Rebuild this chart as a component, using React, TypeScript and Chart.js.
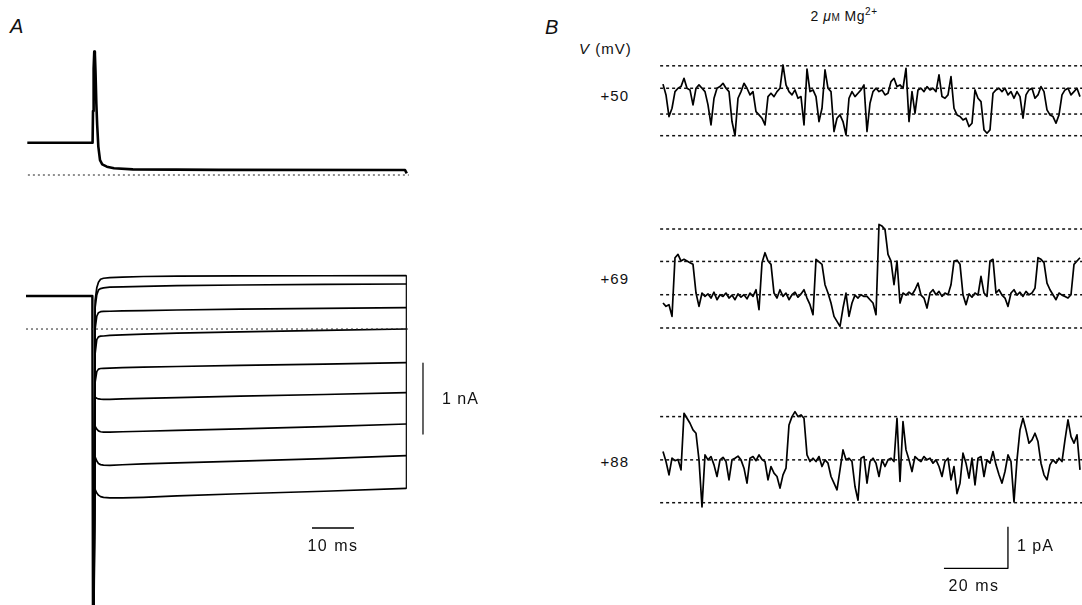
import React, { useEffect, useRef } from "react";
import { Chart, registerables } from "chart.js";

Chart.register(...registerables);

// ---------------- Panel A (whole-cell currents) ----------------
// time in ms relative to the voltage step, current in nA
const aTopTimes = [-15.64, -0.1, 0.0, 0.15, 0.3, 0.45, 0.6, 0.8, 1.0, 1.27, 1.67, 2.2, 3.3, 5, 9.5, 30, 74.3, 74.7];
const aTopValues = [0.455, 0.455, 0.9, 1.5, 1.737, 1.7, 1.45, 1.0, 0.7, 0.4, 0.21, 0.15, 0.117, 0.095, 0.08, 0.072, 0.07, 0.024];

const aHoldStartMs = -15.95;
const aHoldNa = 0.465;
const aTransientNa = -4.5;
const aStepTimes = [0.5, 0.9, 1.3, 1.8, 2.5, 4, 7, 12, 20, 35, 55, 74.6];
const aStep1 = [0.4, 0.58, 0.66, 0.7, 0.715, 0.725, 0.73, 0.74, 0.745, 0.748, 0.75, 0.752];
const aStep2 = [0.3, 0.48, 0.55, 0.57, 0.58, 0.59, 0.595, 0.6, 0.61, 0.62, 0.628, 0.634];
const aStep3 = [0.0, 0.18, 0.23, 0.244, 0.248, 0.25, 0.255, 0.26, 0.268, 0.28, 0.29, 0.3];
const aStep4 = [-0.35, -0.15, -0.11, -0.1, -0.098, -0.09, -0.082, -0.072, -0.058, -0.04, -0.02, 0.0];
const aStep5 = [-0.75, -0.6, -0.565, -0.556, -0.553, -0.55, -0.545, -0.538, -0.528, -0.512, -0.494, -0.474];
const aStep6 = [-0.96, -0.975, -0.985, -0.988, -0.99, -0.99, -0.985, -0.978, -0.965, -0.945, -0.922, -0.897];
const aStep7 = [-1.37, -1.41, -1.435, -1.447, -1.452, -1.452, -1.447, -1.44, -1.428, -1.405, -1.375, -1.338];
const aStep8 = [-1.8, -1.86, -1.895, -1.91, -1.918, -1.92, -1.912, -1.9, -1.885, -1.86, -1.825, -1.784];
const aStep9 = [-2.26, -2.31, -2.34, -2.36, -2.372, -2.378, -2.378, -2.37, -2.35, -2.32, -2.285, -2.244];
const aSteps = [aStep1, aStep2, aStep3, aStep4, aStep5, aStep6, aStep7, aStep8, aStep9];

const aBarMs = 10;
const aBarNa = 1;

// ---------------- Panel B (single channels, pA) ----------------
const bSampleMs = 0.9375;
const b50 = [
  1.24, 0.98, 0.46, 0.66, 1.06, 1.14, 1.18, 1.38, 1.14, 1.1,
  0.74, 1.14, 1.22, 1.14, 1.06, 0.74, 0.26, 0.9, 1.14, 1.18,
  1.26, 1.14, 1.06, 0.34, 0.0, 0.9, 1.06, 1.26, 1.14, 0.98,
  1.06, 0.58, 0.5, 0.42, 0.26, 0.94, 1.02, 0.94, 1.06, 1.14,
  1.7, 1.22, 1.06, 0.98, 1.1, 0.9, 0.94, 0.26, 1.6, 1.06,
  1.1, 0.94, 0.34, 0.66, 1.58, 1.14, 1.06, 0.1, 0.42, 0.5,
  0.34, 0.02, 0.9, 1.06, 0.94, 1.02, 1.1, 1.22,
  0.1, 0.78, 1.06, 1.14, 1.06, 1.1, 0.98, 1.02, 1.3, 1.38,
  1.18, 1.22, 1.14, 1.62, 0.34, 1.06, 0.54, 1.1, 1.14, 1.06,
  1.18, 1.1, 1.14, 1.06, 1.46, 0.94, 0.9, 0.98, 1.42, 0.66,
  0.5, 0.46, 0.38, 0.42, 0.22, 0.3, 1.1, 0.9, 0.82, 0.14,
  0.06, 0.14, 1.02, 1.1, 1.14, 1.06, 1.14, 0.98, 1.06, 0.9,
  1.06, 0.94, 0.42, 0.98, 1.1, 1.14, 0.9, 0.98, 1.18, 1.06,
  0.62, 0.5, 0.46, 0.3, 0.5, 0.98, 1.1, 1.14, 0.98, 1.06,
  1.14, 0.94,
];
const b69 = [
  0.6, 0.52, 0.56, 0.28, 1.69, 1.77, 1.61, 1.65, 1.61, 1.57,
  1.53, 0.84, 0.52, 0.84, 0.76, 0.82, 0.72, 0.86, 0.68, 0.8,
  0.76, 0.84, 0.72, 0.79, 0.68, 0.82, 0.74, 0.8, 0.7, 0.84,
  0.76, 0.92, 0.44, 1.57, 1.81, 1.61, 1.53, 0.84, 0.72, 0.92,
  0.76, 0.84, 0.68, 0.8, 0.86, 0.74, 0.82, 0.92, 0.72, 0.56,
  0.32, 1.65, 1.59, 1.53, 1.04, 0.84, 0.6, 0.28, 0.16, 0.04,
  0.48, 0.84, 0.28, 0.6, 0.79, 0.72, 0.8, 0.76,
  0.76, 0.68, 0.6, 0.32, 2.49, 2.45, 2.37, 1.77, 1.61, 1.04,
  1.61, 0.6, 0.84, 0.79, 0.86, 0.8, 0.92, 1.08, 0.79, 0.72,
  0.48, 0.84, 0.92, 0.8, 0.88, 0.76, 0.84, 0.8, 1.04, 1.61,
  1.63, 1.53, 0.8, 0.56, 0.82, 0.74, 0.84, 0.79, 1.24, 0.84,
  0.76, 1.61, 1.65, 0.84, 0.92, 0.79, 0.72, 0.52, 0.84, 0.92,
  0.79, 0.86, 0.76, 0.88, 0.8, 0.84, 0.96, 1.69, 1.65, 1.57,
  1.08, 0.92, 0.8, 0.68, 0.84, 0.79, 0.76, 0.72, 0.8, 1.53,
  1.61, 1.69,
];
const b88 = [
  1.23, 0.99, 0.67, 1.07, 1.01, 1.04, 0.79, 2.15, 2.03, 1.91,
  1.75, 1.67, 1.03, -0.1, 1.15, 1.03, 1.11, 0.91, 0.63, 1.03,
  1.09, 0.99, 0.55, 1.03, 1.07, 1.12, 1.03, 0.83, 0.47, 1.07,
  1.11, 1.01, 1.15, 1.04, 0.99, 0.55, 0.87, 0.71, 0.63, 0.35,
  0.67, 0.83, 1.87, 2.07, 2.19, 2.07, 2.11, 2.03, 1.15, 0.99,
  1.07, 0.99, 1.11, 0.87, 1.03, 0.95, 0.63, 0.47, 0.31, 0.79,
  1.27, 1.03, 1.07, 0.99, 0.39, 0.06, 1.07, 1.11,
  0.47, 0.99, 1.07, 0.95, 0.63, 1.03, 0.87, 1.03, 1.07, 0.99,
  2.03, 0.51, 1.95, 1.27, 1.03, 0.75, 1.11, 1.04, 0.99, 1.11,
  1.03, 1.07, 0.95, 1.03, 0.87, 0.63, 0.99, 1.07, 0.55, 0.87,
  0.22, 0.47, 1.19, 0.95, 0.59, 1.07, 0.43, 1.07, 1.11, 0.63,
  1.03, 0.95, 1.23, 0.91, 0.67, 0.47, 0.75, 1.15, 0.99, 0.02,
  1.03, 1.75, 2.03, 1.75, 1.43, 1.51, 1.67, 1.47, 0.95, 0.67,
  0.55, 0.91, 1.03, 0.95, 1.07, 0.99, 1.51, 1.99, 1.59, 1.43,
  1.63, 0.79,
];
const b50Levels = [0, 0.52, 1.14, 1.68];
const b69Levels = [0, 0.8, 1.6, 2.38];
const b88Levels = [0, 1.03, 2.07];
const bLevelStartMs = -0.9;
const bLevelEndMs = 131;
const bBarMs = 20;
const bBarPa = 1;

const FONT = '"Liberation Sans", Arial, Helvetica, sans-serif';

type Pt = { x: number; y: number };

function line(data: Pt[], width: number, dash: number[] = [], color = "#000") {
  return {
    data,
    borderColor: color,
    backgroundColor: color,
    borderWidth: width,
    borderDash: dash,
    pointRadius: 0,
    showLine: true,
    fill: false,
    tension: 0,
    borderCapStyle: "butt",
    borderJoinStyle: "round",
  };
}

function Panel(props: {
  left: number;
  top: number;
  width: number;
  height: number;
  xMin: number;
  xMax: number;
  yMin: number;
  yMax: number;
  datasets: any[];
}) {
  const ref = useRef<HTMLCanvasElement | null>(null);
  useEffect(() => {
    const chart = new Chart(ref.current as HTMLCanvasElement, {
      type: "scatter",
      data: { datasets: props.datasets },
      options: {
        animation: false,
        responsive: false,
        maintainAspectRatio: false,
        events: [],
        layout: { padding: 0 },
        plugins: { legend: { display: false }, tooltip: { enabled: false } },
        scales: {
          x: { type: "linear", display: false, min: props.xMin, max: props.xMax },
          y: { type: "linear", display: false, min: props.yMin, max: props.yMax },
        },
      } as any,
    });
    return () => chart.destroy();
  }, []);
  return (
    <canvas
      ref={ref}
      width={props.width}
      height={props.height}
      style={{ position: "absolute", left: props.left, top: props.top, width: props.width, height: props.height }}
    />
  );
}

function Label(props: {
  x: number;
  base: number;
  size: number;
  align?: "left" | "center" | "right";
  italic?: boolean;
  spacing?: number;
  children: React.ReactNode;
}) {
  const align = props.align || "left";
  const shift = align === "left" ? "0" : align === "center" ? "-50%" : "-100%";
  return (
    <div
      style={{
        position: "absolute",
        left: props.x,
        top: props.base - 0.8465 * props.size,
        fontSize: props.size,
        lineHeight: `${props.size}px`,
        fontFamily: FONT,
        fontStyle: props.italic ? "italic" : "normal",
        letterSpacing: props.spacing ?? 1,
        whiteSpace: "nowrap",
        color: "#111",
        transform: `translateX(${shift})`,
      }}
    >
      {props.children}
    </div>
  );
}

function levelLines(levels: number[]) {
  return levels.map((lv) =>
    line(
      [
        { x: bLevelStartMs, y: lv },
        { x: bLevelEndMs, y: lv },
      ],
      1.5,
      [3, 3],
      "#111"
    )
  );
}

function sampleTrace(values: number[]) {
  return line(
    values.map((v, i) => ({ x: i * bSampleMs, y: v })),
    1.7
  );
}

export default function App() {
  // Panel A top trace
  const aTopSets = [
    line(
      [
        { x: -15.5, y: 0 },
        { x: 75.2, y: 0 },
      ],
      1,
      [2, 3],
      "#222"
    ),
    line(
      aTopTimes.map((t, i) => ({ x: t, y: aTopValues[i] })),
      2.6
    ),
  ];

  // Panel A family of step currents
  const last = aStepTimes.length - 1;
  const aBarX = 78.57;
  const aBarTop = -0.479;
  const aMsBarStart = 52.14;
  const aMsBarY = -2.803;
  const aStepSets = [
    line(
      [
        { x: aHoldStartMs, y: 0 },
        { x: 75.3, y: 0 },
      ],
      1,
      [2, 3],
      "#222"
    ),
    line(
      [
        { x: aHoldStartMs, y: aHoldNa },
        { x: -0.15, y: aHoldNa },
        { x: 0.0, y: aTransientNa },
      ],
      2.4
    ),
    ...aSteps.map((vals) =>
      line(
        [{ x: 0.15, y: aTransientNa }, ...aStepTimes.map((t, i) => ({ x: t, y: vals[i] }))],
        1.7
      )
    ),
    line(
      [
        { x: aStepTimes[last], y: aStep1[last] },
        { x: aStepTimes[last], y: aStep9[last] },
      ],
      1.2
    ),
    line(
      [
        { x: aBarX, y: aBarTop },
        { x: aBarX, y: aBarTop - aBarNa },
      ],
      1.2
    ),
    line(
      [
        { x: aMsBarStart, y: aMsBarY },
        { x: aMsBarStart + aBarMs, y: aMsBarY },
      ],
      1.4
    ),
  ];

  // Panel B scale bar
  const bBarX = 107.8;
  const bBarTop = -0.577;
  const bScale = [
    line(
      [
        { x: bBarX - bBarMs, y: bBarTop - bBarPa },
        { x: bBarX, y: bBarTop - bBarPa },
        { x: bBarX, y: bBarTop },
      ],
      1.3
    ),
  ];

  const bx = { xMin: -7.1875, xMax: 130.94 };

  return (
    <div
      style={{
        position: "fixed",
        left: 0,
        top: 0,
        width: 1082,
        height: 605,
        background: "#fff",
        overflow: "hidden",
      }}
    >
      <Panel left={20} top={40} width={400} height={150} xMin={-17.381} xMax={77.857} yMin={-0.211} yMax={1.901} datasets={aTopSets} />
      <Panel left={20} top={250} width={480} height={355} xMin={-17.381} xMax={96.905} yMin={-3.887} yMax={1.113} datasets={aStepSets} />
      <Panel left={640} top={50} width={442} height={100} {...bx} yMin={-0.344} yMax={2.06} datasets={[...levelLines(b50Levels), sampleTrace(b50)]} />
      <Panel left={640} top={210} width={442} height={135} {...bx} yMin={-0.409} yMax={2.837} datasets={[...levelLines(b69Levels), sampleTrace(b69)]} />
      <Panel left={640} top={400} width={442} height={205} {...bx} yMin={-2.459} yMax={2.469} datasets={[...levelLines(b88Levels), sampleTrace(b88), ...bScale]} />

      <Label x={10} base={33} size={20} italic spacing={0}>A</Label>
      <Label x={545} base={34} size={20} italic spacing={0}>B</Label>
      <Label x={844} base={21} size={14} align="center" spacing={0.5}>
        2 <i>μ</i>
        <span style={{ fontVariant: "small-caps" }}>m</span> Mg
        <sup style={{ fontSize: 10, verticalAlign: "6px", lineHeight: 0 }}>2+</sup>
      </Label>
      <Label x={579} base={54} size={15} spacing={1}>
        <i>V</i> (mV)
      </Label>
      <Label x={629} base={101} size={15} align="right">+50</Label>
      <Label x={629} base={284} size={15} align="right">+69</Label>
      <Label x={629} base={467} size={15} align="right">+88</Label>
      <Label x={442} base={405} size={16}>1 nA</Label>
      <Label x={333} base={552} size={16} align="center" spacing={1.5}>10 ms</Label>
      <Label x={1017} base={552} size={16}>1 pA</Label>
      <Label x={974} base={592} size={16} align="center" spacing={1.5}>20 ms</Label>
    </div>
  );
}
